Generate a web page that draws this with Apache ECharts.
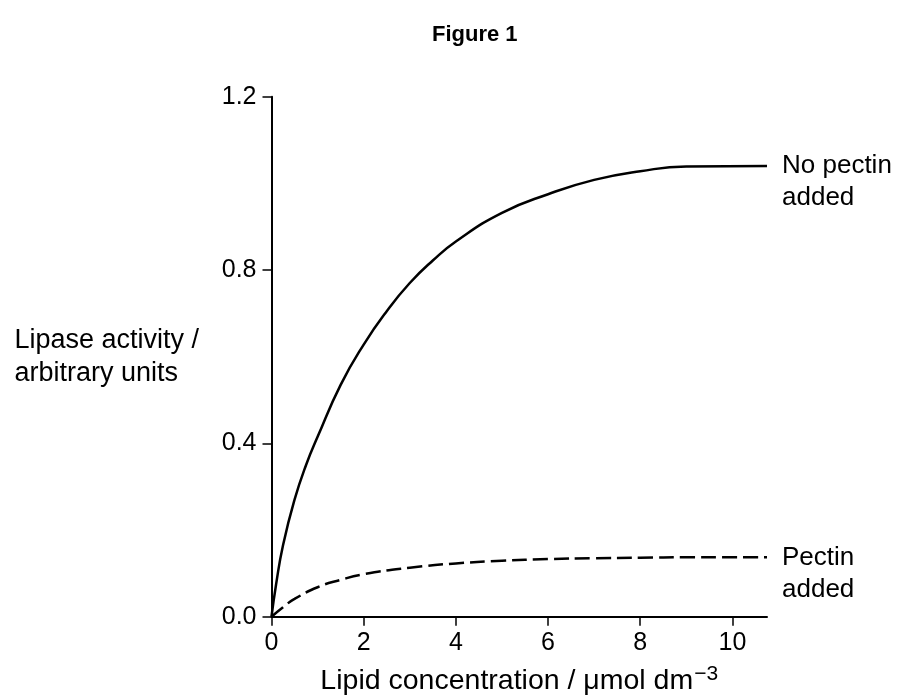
<!DOCTYPE html>
<html>
<head>
<meta charset="utf-8">
<script src="https://cdn.jsdelivr.net/npm/echarts@6/dist/echarts.min.js"></script>
<style>
html,body{margin:0;padding:0;background:#fff;}
#chart{width:910px;height:697px;}
</style>
</head>
<body>
<div id="chart"></div>
<script>
// Lipid concentration (x) and lipase activity (y)
var noPectinX = [0, 0.1, 0.25, 0.5, 0.75, 1.0, 1.5, 2.0, 2.5, 3.0, 3.5, 4.0, 5.0, 6.0, 7.0, 8.0, 9.0, 10.75];
var noPectinY = [0, 0.075, 0.165, 0.27, 0.35, 0.415, 0.535, 0.628, 0.705, 0.77, 0.822, 0.866, 0.932, 0.975, 1.008, 1.028, 1.039, 1.04];
var pectinX = [0, 0.25, 0.5, 1.0, 1.5, 2.0, 3.0, 4.0, 5.0, 6.0, 7.0, 8.0, 9.0, 10.75];
var pectinY = [0, 0.022, 0.041, 0.068, 0.085, 0.098, 0.113, 0.123, 0.129, 0.133, 0.135, 0.136, 0.137, 0.137];
var xTicks = [0, 2, 4, 6, 8, 10];
var yTicks = [0, 0.4, 0.8, 1.2];
var seriesNames = ['No pectin\nadded', 'Pectin\nadded'];

function pairs(xs, ys){ return xs.map(function(x,i){ return [x, ys[i]]; }); }

var font = 'Liberation Sans, Arial, sans-serif';
var chart = echarts.init(document.getElementById('chart'), null, {renderer:'canvas'});
var endLabel = function(text){
  return {
    show: true,
    formatter: text,
    color: '#000',
    fontFamily: font,
    fontSize: 26,
    lineHeight: 32,
    align: 'left',
    verticalAlign: 'top',
    distance: 15,
    offset: [0, -16]
  };
};
chart.setOption({
  animation: false,
  backgroundColor: '#fff',
  title: {
    text: 'Figure 1',
    left: 427, top: 19,
    textStyle: {fontFamily: font, fontWeight: 'bold', fontSize: 22, color: '#000'}
  },
  grid: {left: 271.5, right: 143, top: 96.7, bottom: 80.3, containLabel: false, outerBoundsMode: 'none'},
  xAxis: {
    type: 'value', min: 0, max: 10.75,
    name: '{n|Lipid concentration / μmol dm}{s|−3}',
    nameLocation: 'middle', nameGap: 47,
    nameTextStyle: {
      rich: {
        n: {fontFamily: font, fontSize: 28.5, color: '#000', lineHeight: 30},
        s: {fontFamily: font, fontSize: 21, color: '#000', padding: [0,0,14,1]}
      }
    },
    splitLine: {show: false},
    axisLine: {show: true, lineStyle: {color: '#000', width: 2}},
    axisTick: {show: true, length: 9, lineStyle: {color: '#000', width: 1.5}, customValues: xTicks},
    axisLabel: {customValues: xTicks, color: '#000', fontFamily: font, fontSize: 25, margin: 14}
  },
  yAxis: {
    type: 'value', min: 0, max: 1.2, interval: 0.4,
    name: 'Lipase activity /\narbitrary units',
    nameLocation: 'middle', nameRotate: 0, nameGap: 257,
    nameTextStyle: {fontFamily: font, fontSize: 27, color: '#000', align: 'left', lineHeight: 33},
    splitLine: {show: false},
    axisLine: {show: true, lineStyle: {color: '#000', width: 2}},
    axisTick: {show: true, length: 9, lineStyle: {color: '#000', width: 1.5}, customValues: yTicks},
    axisLabel: {customValues: yTicks, color: '#000', fontFamily: font, fontSize: 25, margin: 15,
      formatter: function(v){ return v.toFixed(1); }}
  },
  series: [
    {
      name: seriesNames[0], type: 'line', data: pairs(noPectinX, noPectinY),
      smooth: 0.5, symbol: 'none', clip: false,
      lineStyle: {color: '#000', width: 2.5},
      endLabel: endLabel(seriesNames[0])
    },
    {
      name: seriesNames[1], type: 'line', data: pairs(pectinX, pectinY),
      smooth: 0.5, symbol: 'none', clip: false,
      lineStyle: {color: '#000', width: 2.5, type: [15, 6]},
      endLabel: endLabel(seriesNames[1])
    }
  ]
});
</script>
</body>
</html>
